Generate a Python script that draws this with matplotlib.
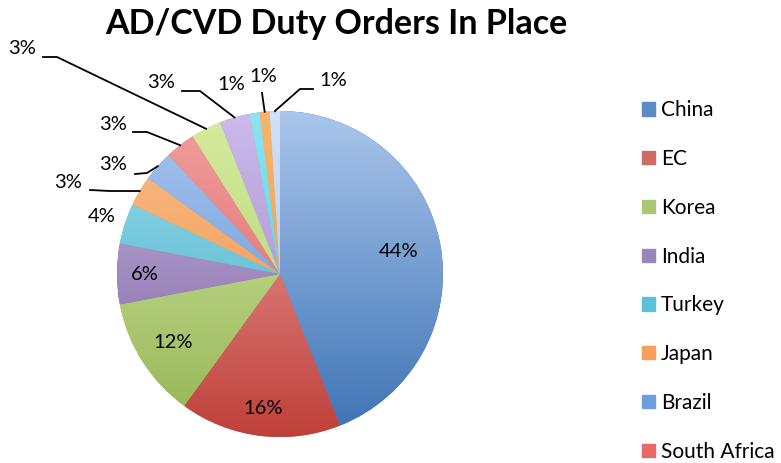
import matplotlib.pyplot as plt
import numpy as np
from matplotlib.colors import LinearSegmentedColormap

plt.rcParams['font.family'] = ['Lato', 'DejaVu Sans']

W, H = 781, 463

countries = ['China', 'EC', 'Korea', 'India', 'Turkey', 'Japan', 'Brazil',
             'South Africa', 'Other 1', 'Other 2', 'Other 3', 'Other 4', 'Other 5']
shares = [44, 16, 12, 6, 4, 3, 3, 3, 3, 3, 1, 1, 1]
n_legend = 8  # legend in the original is cut off after South Africa

# light (top of pie) -> dark (bottom of pie) for the gradient fill
light = ['#aac6ec', '#f0aaa8', '#d8eaa8', '#c7b8e0', '#9fe0ee', '#f8c08c',
         '#a9c6f0', '#f0a0a0', '#d6ec9e', '#cbbaea', '#8fe3f0', '#f6b46c', '#d0e0f6']
dark = ['#3c72b4', '#bf4039', '#93b553', '#7a5d9e', '#3aa6c2', '#f0893a',
        '#5a8ad0', '#dd5a58', '#a8cc6a', '#9a84c4', '#3cc8e0', '#f09a4a', '#a8c4ec']
legend_col = ['#5b8ac6', '#d06a66', '#a9c872', '#9a84bc', '#5ec0d6', '#f5a05a',
              '#6c9ee0', '#e86a68']

cx, cy, r = 280, H - 274, 163

fig = plt.figure(figsize=(W / 100, H / 100), dpi=100)
ax = fig.add_axes([0, 0, 1, 1])

wedges, _ = ax.pie(shares, center=(cx, cy), radius=r, startangle=90,
                   counterclock=False, colors=dark,
                   wedgeprops=dict(linewidth=0))
ax.set_xlim(0, W)
ax.set_ylim(0, H)
ax.set_aspect('equal')
ax.axis('off')

# vertical gradient inside each wedge
grad = np.linspace(0, 1, 256).reshape(-1, 1)
for w, lc, dc in zip(wedges, light, dark):
    cmap = LinearSegmentedColormap.from_list('g', [lc, dc])
    im = ax.imshow(grad, cmap=cmap, aspect='auto', origin='upper',
                   extent=(cx - r, cx + r, cy - r, cy + r), zorder=2)
    im.set_clip_path(w)

# percentage labels
angles = []
acc = 0
for s in shares:
    mid = acc + s / 2
    angles.append(np.deg2rad(mid * 3.6))
    acc += s

def edge(i, rr=1.0):
    a = angles[i]
    return cx + rr * r * np.sin(a), cy + rr * r * np.cos(a)

fs = 14.5
inside_r = {0: 0.74, 1: 0.83, 2: 0.78, 3: 0.83}
for i, rr in inside_r.items():
    x, y = edge(i, rr)
    ax.text(x, y, f'{shares[i]}%', ha='center', va='center', fontsize=fs, zorder=5)

# Turkey label outside, no leader
x, y = edge(4, 1.15)
ax.text(x, y, f'{shares[4]}%', ha='center', va='center', fontsize=fs, zorder=5)

# outside labels with leader lines: text position, knee points (image pixels)
leaders = {
    5: ((68, 183), [(90, 190), (110, 191)]),
    6: ((113, 165), [(135, 174), (147, 173)]),
    7: ((113, 124), [(133, 132), (147, 132)]),
    8: ((22, 48), [(43, 57), (57, 57)]),
    9: ((161, 83), [(182, 91), (200, 91)]),
    10: ((231, 85), []),
    11: ((263, 77), [(262, 93)]),
    12: ((333, 80), [(313, 89), (300, 89)]),
}
for i, (tp, knees) in leaders.items():
    ax.text(tp[0], H - tp[1], f'{shares[i]}%', ha='center', va='center',
            fontsize=fs, zorder=5)
    if knees:
        ex, ey = edge(i, 1.0)
        xs = [k[0] for k in knees] + [ex]
        ys = [H - k[1] for k in knees] + [ey]
        ax.plot(xs, ys, color='black', lw=1.3, zorder=4)

ax.text(336, H - 24, 'AD/CVD Duty Orders In Place', ha='center', va='center',
        fontsize=24.5, fontweight='bold', zorder=5)

handles = [plt.Rectangle((0, 0), 1, 1, color=c) for c in legend_col[:n_legend]]
leg = ax.legend(handles, countries[:n_legend], loc='upper left',
                bbox_to_anchor=(632 / W, 1 - 90 / H), frameon=False,
                fontsize=15, labelspacing=1.38, handlelength=0.6,
                handleheight=0.6, handletextpad=0.3, borderpad=0)

fig.savefig('out.png', dpi=100)
